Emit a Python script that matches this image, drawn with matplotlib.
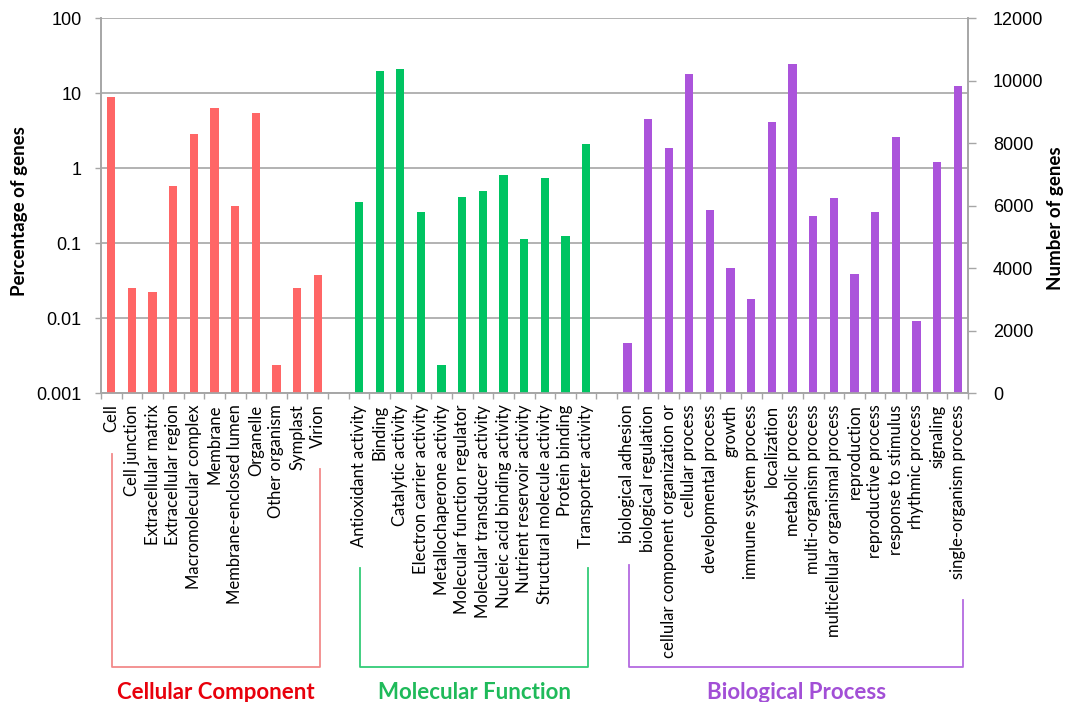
import matplotlib
matplotlib.use("Agg")
import matplotlib.pyplot as plt
import matplotlib.transforms as mtransforms
import numpy as np

# ---- data ----
cc_labels = ["Cell", "Cell junction", "Extracellular matrix", "Extracellular region",
             "Macromolecular complex", "Membrane", "Membrane-enclosed lumen", "Organelle",
             "Other organism", "Symplast", "Virion"]
cc_values = [8.9, 0.025, 0.0224, 0.585, 2.87, 6.3, 0.31, 5.5, 0.00225, 0.025, 0.038]

mf_labels = ["Antioxidant activity", "Binding", "Catalytic activity", "Electron carrier activity",
             "Metallochaperone activity", "Molecular function regulator",
             "Molecular transducer activity", "Nucleic acid binding activity",
             "Nutrient reservoir activity", "Structural molecule activity", "Protein binding",
             "Transporter activity"]
mf_values = [0.356, 19.6, 21.1, 0.259, 0.00226, 0.418, 0.493, 0.807, 0.114, 0.736, 0.125, 2.09]

bp_labels = ["biological adhesion", "biological regulation", "cellular component organization or",
             "cellular process", "developmental process", "growth", "immune system process",
             "localization", "metabolic process", "multi-organism process",
             "multicellular organismal process", "reproduction", "reproductive process",
             "response to stimulus", "rhythmic process", "signaling", "single-organism process"]
bp_values = [0.00454, 4.5, 1.88, 18.2, 0.278, 0.0473, 0.0181, 4.14, 24.8, 0.229, 0.398,
             0.0386, 0.259, 2.64, 0.0090, 1.20, 12.6]

group_names = ["Cellular Component", "Molecular Function", "Biological Process"]
left_ticks = [0.001, 0.01, 0.1, 1, 10, 100]
left_ticklabels = ["0.001", "0.01", "0.1", "1", "10", "100"]
right_ticks = [0, 2000, 4000, 6000, 8000, 10000, 12000]

# ---- style ----
bar_colors = ["#ff6666", "#00c462", "#ab54db"]
bracket_colors = ["#f28a8a", "#33cc77", "#b46ae0"]
group_text_colors = ["#e8000b", "#1fba5a", "#a24fd6"]
cat_font = "Lato"

fig = plt.figure(figsize=(10.69, 7.02), dpi=100)
ax = fig.add_axes([101 / 1069, 1 - 393.3 / 702, (968 - 101) / 1069, (393.3 - 18.3) / 702])

groups = [(cc_labels, cc_values), (mf_labels, mf_values), (bp_labels, bp_values)]
positions_all, labels_all = [], []
start = 0
for gi, (labs, vals) in enumerate(groups):
    pos = np.arange(start, start + len(labs))
    ax.bar(pos, vals, width=0.4, color=bar_colors[gi], bottom=0.0001, zorder=3)
    positions_all.extend(pos)
    labels_all.extend(labs)
    start = start + len(labs) + 1

nslots = start - 1
ax.set_yscale("log")
ax.set_ylim(0.001, 100)
ax.set_xlim(-0.5, nslots - 0.5)
ax.set_yticks(left_ticks)
ax.set_yticklabels(left_ticklabels)
ax.yaxis.set_minor_locator(matplotlib.ticker.NullLocator())
ax.grid(axis="y", color="#a6a6a6", linewidth=1.2, zorder=0)
ax.set_axisbelow(True)

ax.set_xticks(positions_all)
ax.set_xticklabels(labels_all, rotation=90, fontsize=12, family=cat_font, va="top", ha="center")
ax.tick_params(axis="x", which="major", length=0, pad=8)
ax.set_xticks(np.arange(-0.5, nslots, 1.0), minor=True)
ax.tick_params(axis="x", which="minor", length=4, color="#a6a6a6", width=1)
ax.tick_params(axis="y", which="major", length=4, color="#a6a6a6", width=1, pad=10,
               labelsize=13)
for lab in ax.get_yticklabels():
    lab.set_family("Liberation Sans")

for s in ["left", "bottom", "right", "top"]:
    ax.spines[s].set_color("#a6a6a6")
    ax.spines[s].set_linewidth(1.2)
ax.spines["top"].set_visible(False)

ax2 = ax.twinx()
ax2.set_ylim(0, 12000)
ax2.set_yticks(right_ticks)
ax2.set_yticklabels([str(t) for t in right_ticks], family="Liberation Sans")
ax2.tick_params(axis="y", length=6, color="#a6a6a6", width=1, pad=12, labelsize=13)
for s in ["left", "bottom", "right", "top"]:
    ax2.spines[s].set_color("#a6a6a6")
    ax2.spines[s].set_linewidth(1.2)
ax2.spines["top"].set_visible(False)

fig.text(20 / 1069, 1 - 211 / 702, "Percentage of genes", rotation=90, ha="center", va="center",
         fontsize=13.5, fontweight="bold", family=cat_font)
fig.text(1056 / 1069, 1 - 218 / 702, "Number of genes", rotation=90, ha="center", va="center",
         fontsize=13.5, fontweight="bold", family=cat_font)

# ---- brackets ----
trans = mtransforms.blended_transform_factory(ax.transData, fig.transFigure)
bracket_tops = [(0.3533, 0.3319), (0.1913, 0.1913), (0.195, 0.145)]
bracket_x = [(0.03, 10.1), (12.05, 23.1), (25.1, 41.25)]
bottom_y = 0.0499
for gi in range(3):
    x0, x1 = bracket_x[gi]
    t0, t1 = bracket_tops[gi]
    ax.plot([x0, x0, x1, x1], [t0, bottom_y, bottom_y, t1], transform=trans,
            color=bracket_colors[gi], linewidth=1.3, clip_on=False)
    ax.text((x0 + x1) / 2, 0.0142, group_names[gi], transform=trans, ha="center", va="center",
            fontsize=16, fontweight="bold", color=group_text_colors[gi], family=cat_font)

fig.savefig("out.png", dpi=100)
